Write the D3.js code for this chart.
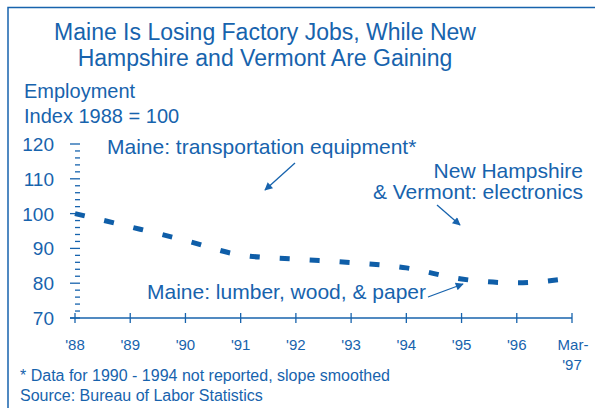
<!DOCTYPE html>
<html>
<head>
<meta charset="utf-8">
<script src="https://cdn.jsdelivr.net/npm/d3@7"></script>
<style>
  body { margin: 0; background: #fff; }
  text { font-family: "Liberation Sans", Arial, sans-serif; fill: #1763ad; }
</style>
</head>
<body>
<div id="chart"></div>
<script>
// Chart data
let years = ["'88", "'89", "'90", "'91", "'92", "'93", "'94", "'95", "'96", "Mar-\n'97"];
let lumberValues = [100, 96.2, 92.3, 88.1, 86.9, 85.9, 84.4, 81.2, 80.1, 81.5];
let yTicks = [70, 80, 90, 100, 110, 120];
let titleLines = ["Maine Is Losing Factory Jobs, While New", "Hampshire and Vermont Are Gaining"];
let footnotes = ["* Data for 1990 - 1994 not reported, slope smoothed", "Source:  Bureau of Labor Statistics"];

let width = 595, height = 408;
let blue = "#1763ad";
let lineBlue = "#0f5ea8";

let svg = d3.select("#chart")
    .append("svg")
    .attr("width", width)
    .attr("height", height);

svg.append("defs").append("marker")
    .attr("id", "arrow")
    .attr("viewBox", "0 0 10 10")
    .attr("refX", 9)
    .attr("refY", 5)
    .attr("markerWidth", 10)
    .attr("markerHeight", 8)
    .attr("markerUnits", "userSpaceOnUse")
    .attr("orient", "auto")
    .append("path")
    .attr("d", "M0,0 L10,5 L0,10 Z")
    .attr("fill", blue);

// frame (top and left only)
svg.append("path")
    .attr("d", "M8," + height + " L8,7.5 L" + width + ",7.5")
    .attr("fill", "none")
    .attr("stroke", blue)
    .attr("stroke-width", 1.5);

// Title
svg.selectAll(".title")
    .data(titleLines)
    .enter()
    .append("text")
    .attr("x", 265)
    .attr("y", function (d, i) { return 40 + i * 26; })
    .attr("text-anchor", "middle")
    .style("font-size", "23px")
    .text(function (d) { return d; });

// Y label
svg.append("text").attr("x", 24).attr("y", 98).style("font-size", "20px").text("Employment");
svg.append("text").attr("x", 24).attr("y", 123).style("font-size", "20px").text("Index 1988 = 100");

// Scales
let x = d3.scaleLinear().domain([0, years.length - 1]).range([75, 572]);
let y = d3.scaleLinear().domain([70, 120]).range([318, 144]);

// Y ticks: majors + minor every 2
let minor = d3.range(72, 120, 2).filter(function (v) { return v % 10 !== 0; });
svg.selectAll(".minor")
    .data(minor)
    .enter()
    .append("line")
    .attr("x1", 75).attr("x2", 80)
    .attr("y1", function (d) { return y(d); })
    .attr("y2", function (d) { return y(d); })
    .attr("stroke", blue)
    .attr("stroke-width", 1.3);

svg.selectAll(".major")
    .data(yTicks)
    .enter()
    .append("line")
    .attr("x1", 70).attr("x2", 80)
    .attr("y1", function (d) { return y(d); })
    .attr("y2", function (d) { return y(d); })
    .attr("stroke", blue)
    .attr("stroke-width", 1.3);

svg.selectAll(".ylab")
    .data(yTicks)
    .enter()
    .append("text")
    .attr("x", 54)
    .attr("y", function (d) { return y(d) + 7; })
    .attr("text-anchor", "end")
    .style("font-size", "19px")
    .text(function (d) { return d; });

// X axis
svg.append("line")
    .attr("x1", 70).attr("x2", x(years.length - 1))
    .attr("y1", 318).attr("y2", 318)
    .attr("stroke", blue)
    .attr("stroke-width", 1.5);

svg.selectAll(".xtick")
    .data(years)
    .enter()
    .append("line")
    .attr("x1", function (d, i) { return x(i); })
    .attr("x2", function (d, i) { return x(i); })
    .attr("y1", 313).attr("y2", 323)
    .attr("stroke", blue)
    .attr("stroke-width", 1.3);

let xl = svg.selectAll(".xlab")
    .data(years)
    .enter()
    .append("text")
    .attr("text-anchor", "middle")
    .style("font-size", "15px");
xl.selectAll("tspan")
    .data(function (d, i) { return d.split("\n").map(function (s) { return {s: s, i: i}; }); })
    .enter()
    .append("tspan")
    .attr("x", function (d) { return x(d.i) + (d.s === "Mar-" ? 1 : 0); })
    .attr("y", function (d, j) { return 350 + j * 20; })
    .text(function (d) { return d.s; });

// Dashed lumber line
let line = d3.line()
    .x(function (d, i) { return x(i); })
    .y(function (d) { return y(d); })
    .curve(d3.curveMonotoneX);

svg.append("path")
    .datum(lumberValues)
    .attr("d", line)
    .attr("fill", "none")
    .attr("stroke", lineBlue)
    .attr("stroke-width", 5)
    .attr("stroke-dasharray", "10,20");

// Annotations
svg.append("text").attr("x", 107).attr("y", 154).style("font-size", "21px").text("Maine: transportation equipment*");
svg.append("text").attr("x", 583).attr("y", 178).attr("text-anchor", "end").style("font-size", "21px").text("New Hampshire");
svg.append("text").attr("x", 583).attr("y", 199).attr("text-anchor", "end").style("font-size", "21px").text("& Vermont: electronics");
svg.append("text").attr("x", 147).attr("y", 299).style("font-size", "21px").text("Maine: lumber, wood, & paper");

let arrows = [
    [295, 163, 265, 190],
    [437, 205, 460, 225],
    [428, 297, 463, 284]
];
svg.selectAll(".arrow")
    .data(arrows)
    .enter()
    .append("line")
    .attr("x1", function (d) { return d[0]; })
    .attr("y1", function (d) { return d[1]; })
    .attr("x2", function (d) { return d[2]; })
    .attr("y2", function (d) { return d[3]; })
    .attr("stroke", blue)
    .attr("stroke-width", 1.3)
    .attr("marker-end", "url(#arrow)");

// Footnotes
svg.selectAll(".foot")
    .data(footnotes)
    .enter()
    .append("text")
    .attr("x", 20)
    .attr("y", function (d, i) { return 381 + i * 20; })
    .style("font-size", "16px")
    .text(function (d) { return d; });
</script>
</body>
</html>
